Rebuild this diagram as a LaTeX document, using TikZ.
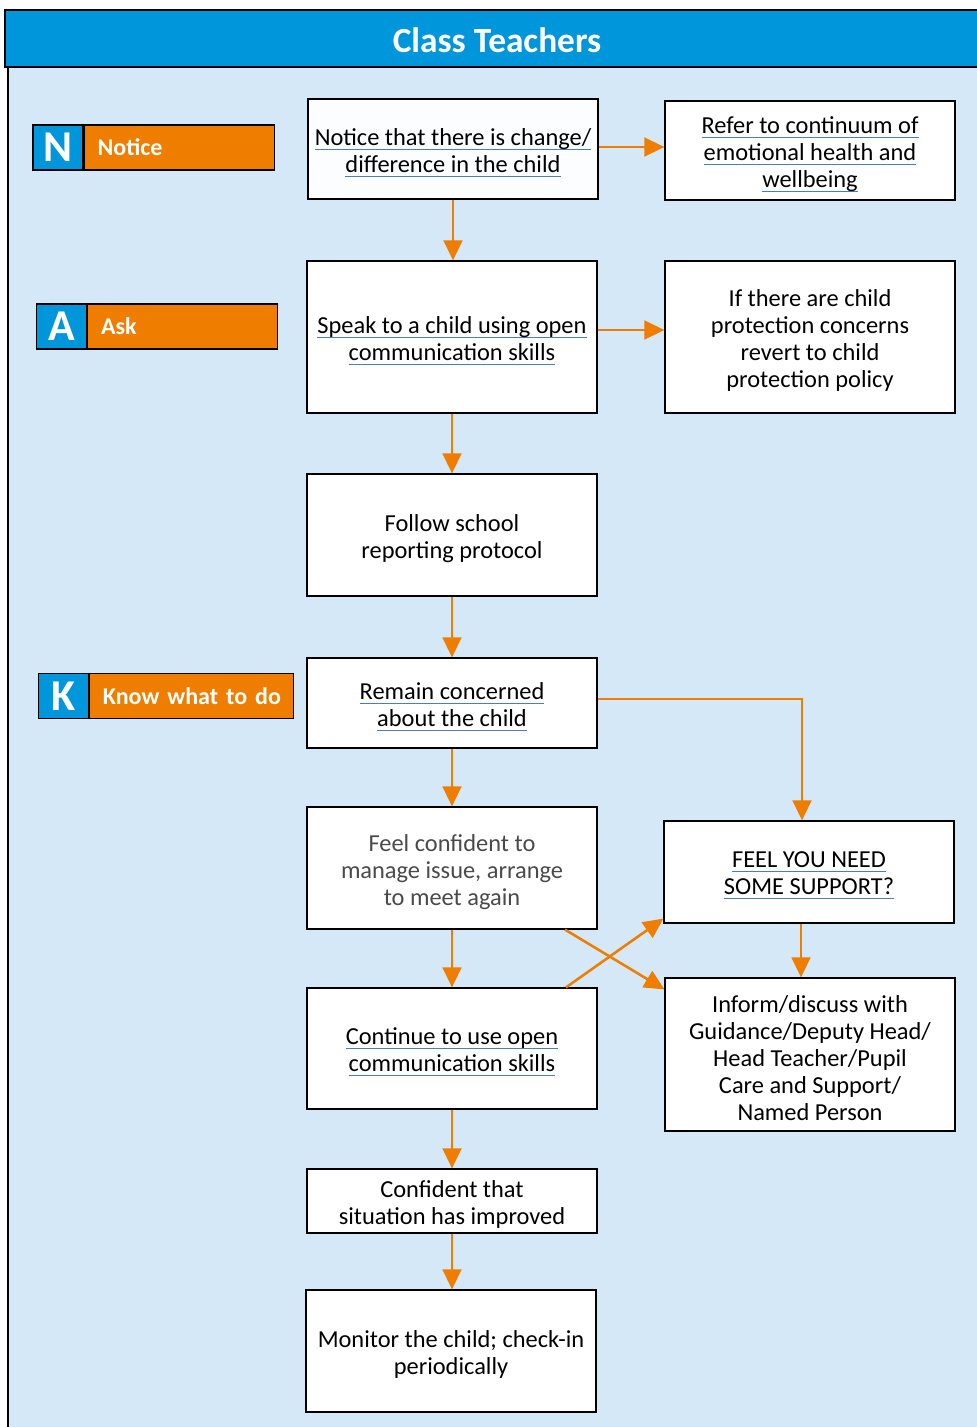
\documentclass[tikz,border=0pt]{standalone}
\usepackage{fontspec}
\setmainfont{Carlito}
\usetikzlibrary{arrows.meta}
\definecolor{hdrblue}{HTML}{0096DB}
\definecolor{panelblue}{HTML}{D4E8F8}
\definecolor{flow}{HTML}{EF7D00}
\definecolor{ulblue}{HTML}{4A7EBB}
\definecolor{greytext}{HTML}{4A4A4A}
% underlined link-style text with a blue rule
\newsavebox\lnkbox
\newcommand\lnk[1]{\sbox\lnkbox{#1}\leavevmode\rlap{\color{ulblue}\rule[-3.4pt]{\wd\lnkbox}{0.8pt}}\usebox\lnkbox}
\tikzset{
  box/.style={draw=black, line width=0.9pt, fill=white, inner sep=0pt, minimum width=217.5pt},
  boxtext/.style={align=center, inner sep=0pt, font=\fontsize{18.3}{20.2}\selectfont},
  arr/.style={draw=flow, line width=1.9pt, -{Triangle[length=15pt,width=14pt]}},
  badgeL/.style={draw=black, line width=0.9pt, fill=hdrblue, text=white, inner sep=0pt,
    minimum width=37.5pt, minimum height=33.75pt, font=\fontsize{33}{33}\selectfont\bfseries},
  badgeR/.style={draw=black, line width=0.9pt, fill=flow, text=white, anchor=west, inner xsep=10pt,
    inner ysep=0pt, align=left, minimum height=33.75pt, font=\fontsize{18}{20}\selectfont\bfseries}
}
% \flowbox[options]{name}{x}{y}{height}{text}: framed step with its text set slightly low
\newcommand\flowbox[6][]{%
  \node[box,#1, minimum height=#5] (#2) at (#3,#4) {};
  \node[boxtext,#1] (#2-text) at ([yshift=-2.8pt]#2.center) {#6};}
\begin{document}
\begin{tikzpicture}[x=0.75pt,y=-0.75pt]
\useasboundingbox (0,0) rectangle (977,1427);
% page background, panel and header
\fill[white] (0,0) rectangle (977,1427);
\filldraw[fill=panelblue, draw=black, line width=0.8pt] (8,67) rectangle (990,1440);
\filldraw[fill=hdrblue, draw=black, line width=1pt] (5,10) rectangle (990,67);
\node[text=white, font=\fontsize{26.5}{26.5}\selectfont\bfseries] (title) at (497,40) {Class Teachers};

% N / A / K badges
\node[badgeL] (nL) at (58,147.5) {N};
\node[badgeR, text width=122.5pt] (nR) at (nL.east) {Notice};
\node[badgeL] (aL) at (61.5,326.5) {A};
\node[badgeR, text width=122.5pt] (aR) at (aL.east) {Ask};
\node[badgeR, text width=142pt, inner xsep=5.5pt] (kR) at (89,696) {\hspace*{4.5pt}Know what to do};
\node[badgeL, anchor=east] (kL) at (kR.west) {K};

% flow boxes
\flowbox[fill=white!93!panelblue]{notice}{453}{149}{75pt}
  {\lnk{Notice that there is change/}\\\lnk{difference in the child}}
\flowbox{refer}{810}{150.5}{74.25pt}
  {\lnk{Refer to continuum of}\\\lnk{emotional health and}\\\lnk{wellbeing}}
\flowbox{speak}{452}{337}{114pt}
  {\lnk{Speak to a child using open}\\\lnk{communication skills}}
\flowbox{protect}{810}{337}{114pt}
  {If there are child\\protection concerns\\revert to child\\protection policy}
\flowbox{follow}{452}{535}{91.5pt}
  {Follow school\\reporting protocol}
\flowbox{remain}{452}{703}{67.5pt}
  {\lnk{Remain concerned}\\\lnk{about the child}}
\flowbox[text=greytext]{confident}{452}{868}{91.5pt}
  {Feel confident to\\manage issue, arrange\\to meet again}
\flowbox{support}{809}{872}{76.5pt}
  {\lnk{FEEL YOU NEED}\\\lnk{SOME SUPPORT?}}
\flowbox{continue}{452}{1048.5}{90.75pt}
  {\lnk{Continue to use open}\\\lnk{communication skills}}
\flowbox{inform}{810}{1054.5}{114.75pt}
  {Inform/discuss with\\Guidance/Deputy Head/\\Head Teacher/Pupil\\Care and Support/\\Named Person}
\flowbox{improved}{452}{1201}{48pt}
  {Confident that\\situation has improved}
\flowbox{monitor}{451}{1351}{91.5pt}
  {Monitor the child; check-in\\periodically}

% connectors
\draw[arr] ([yshift=1.5pt]notice.east) -- ([yshift=1.5pt]notice.east -| refer.west);
\draw[arr] (notice.south) -- (notice.south |- speak.north);
\draw[arr] ([yshift=5.25pt]speak.east) -- ([yshift=5.25pt]speak.east -| protect.west);
\draw[arr] (speak.south) -- (follow.north);
\draw[arr] (follow.south) -- (remain.north);
\draw[arr] ([yshift=3pt]remain.east) -| ([xshift=-5.25pt]support.north);
\draw[arr] (remain.south) -- (confident.north);
\draw[arr] (confident.south) -- (continue.north);
\draw[arr] ([xshift=84.75pt]confident.south) -- ([yshift=-9pt]inform.north west);
\draw[arr] ([xshift=85.5pt]continue.north) -- ([yshift=3.75pt]support.south west);
\draw[arr] ([xshift=-6pt]support.south) -- ([xshift=-6pt]support.south |- inform.north);
\draw[arr] (continue.south) -- (improved.north);
\draw[arr] (improved.south) -- (improved.south |- monitor.north);
\end{tikzpicture}
\end{document}
